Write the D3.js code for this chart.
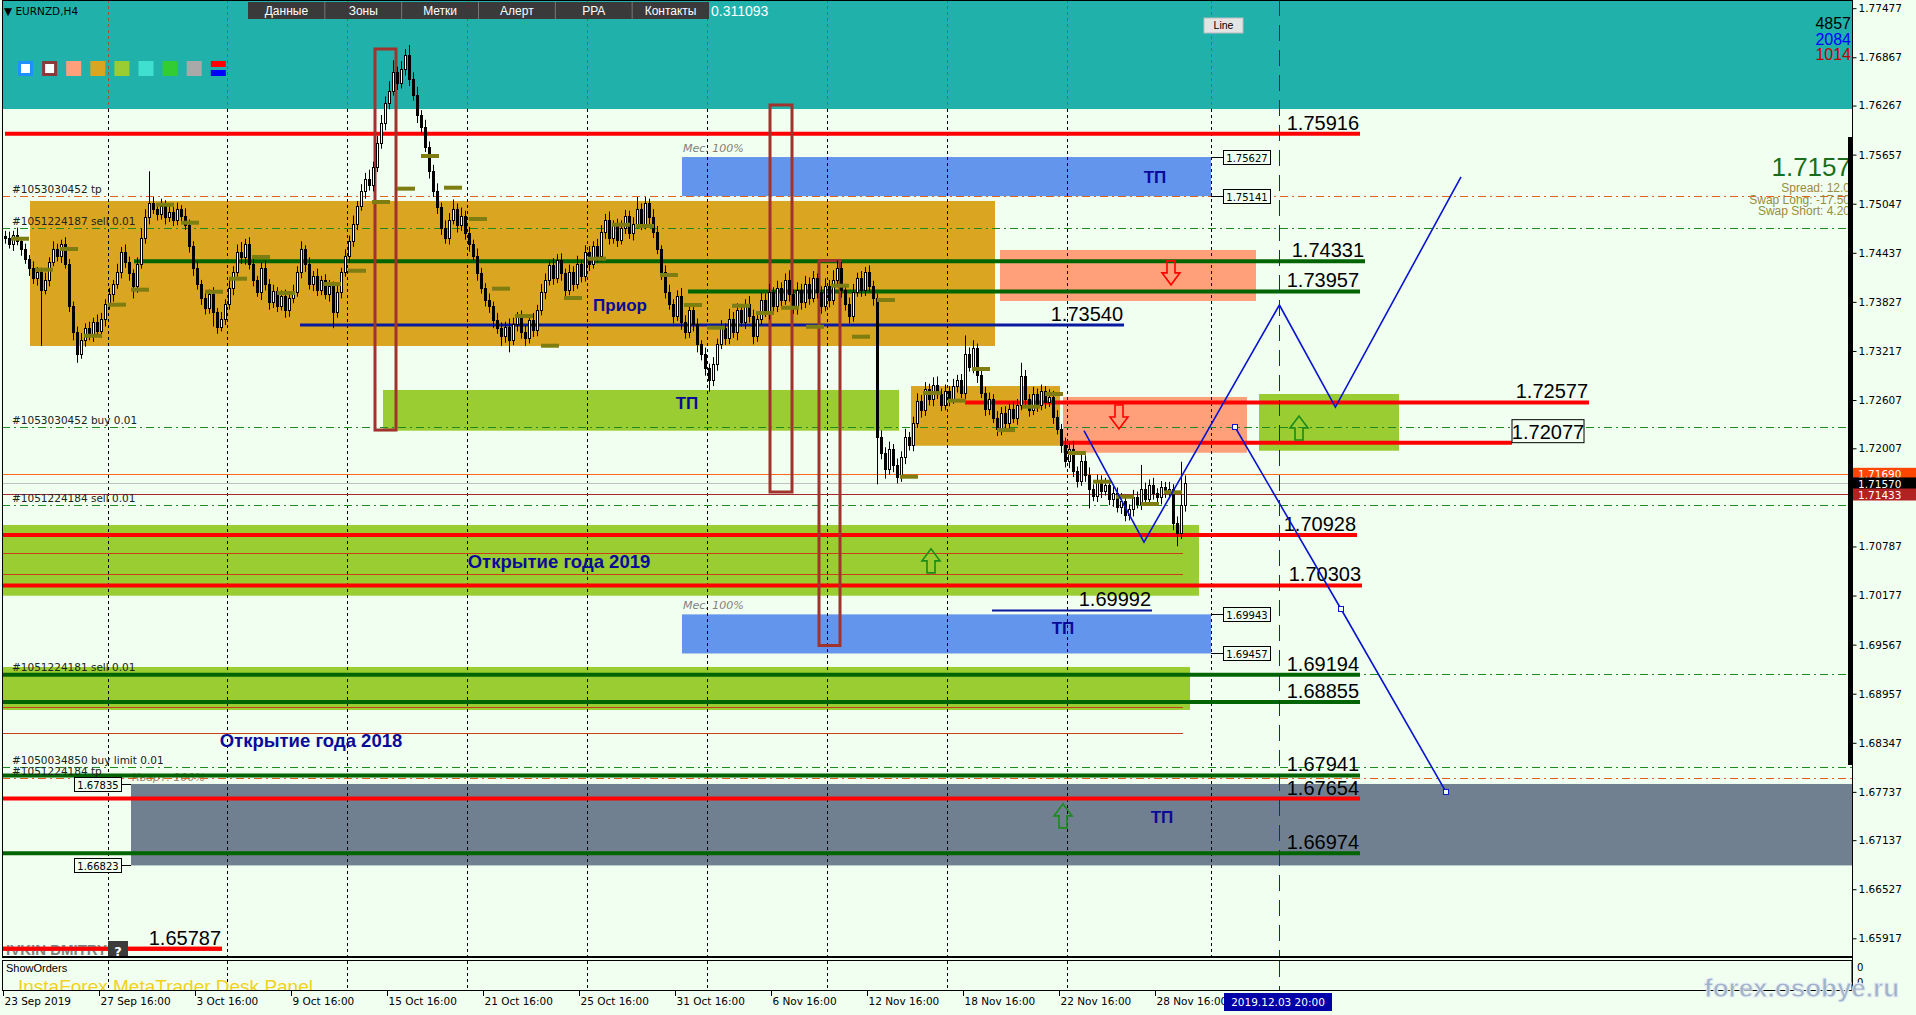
<!DOCTYPE html>
<html><head><meta charset="utf-8">
<script src="https://cdn.jsdelivr.net/npm/d3@7"></script>
<style>
body{margin:0;background:#f0fff0;overflow:hidden}
svg{display:block}
text{font-family:"DejaVu Sans",sans-serif}
.num{font-family:"Liberation Sans",Arial,sans-serif}
</style></head><body>
<svg id="c" width="1916" height="1015"></svg>
<script>
// ---------------- DATA ----------------
// H4 candles, closes in pips above 1.7000 (open = previous close)
const firstOpen = 465;
const closes = [
462,455,466,458,448,436,425,412,420,398,
410,432,448,440,455,430,378,345,318,335,
350,342,358,346,362,380,392,405,420,445,
432,418,402,430,462,488,505,498,492,502,
488,495,485,498,490,478,452,425,405,388,
375,392,370,352,362,380,400,420,445,438,
455,430,410,395,425,405,382,396,378,390,
372,388,395,420,448,430,405,415,398,410,
392,402,370,395,420,440,458,480,502,520,
535,528,550,580,605,630,645,668,655,672,
690,660,640,615,600,575,545,520,500,475,
462,485,498,478,490,468,455,440,418,400,
385,378,360,350,340,352,335,355,365,345,
338,360,348,372,395,410,428,412,435,418,
398,420,405,430,415,445,430,452,440,470,
485,462,478,460,475,490,468,480,498,480,
505,488,470,448,420,395,380,365,390,358,
345,372,355,330,318,300,285,305,330,350,
338,362,345,372,358,380,365,340,362,385,
370,395,378,400,385,410,392,375,398,382,
405,388,412,395,378,402,385,410,425,398,
380,365,395,412,398,420,402,388,215,195,
175,200,180,165,190,215,205,232,260,248,
275,262,280,268,255,272,262,278,285,270,
318,302,325,292,270,250,262,238,225,245,
232,250,238,255,290,262,248,268,255,272,
258,265,240,225,205,185,200,172,160,185,
168,150,142,160,148,155,138,145,128,135,
118,125,140,132,150,138,155,145,140,152,
146,150,108,95,130,157];
const upWick = [
6,8,5,9,4,7,5,8,6,5, 9,6,10,7,5,8,6,5,7,9, 6,8,5,9,7,6,8,5,10,6, 9,7,5,8,12,10,40,8,6,9,
7,10,6,8,5,9,7,6,8,5, 7,6,9,5,8,6,10,7,9,12, 6,8,10,5,7,9,6,8,5,7, 8,6,9,7,10,5,8,6,9,5,
7,8,6,9,5,8,7,10,6,9, 8,12,7,9,10,8,12,15,7,10, 7,12,8,10,6,9,7,8,10,6, 9,8,12,7,10,6,8,5,9,7,
6,8,5,9,7,6,10,8,5,7, 8,6,9,7,10,8,6,9,7,8, 6,9,7,10,5,8,7,6,9,8, 7,10,6,8,9,7,6,8,15,7,
8,6,10,7,5,8,9,6,7,10, 8,6,9,7,5,8,6,9,7,10, 6,12,8,9,7,6,10,8,7,9, 8,10,6,9,7,8,12,6,9,7,
10,8,9,6,7,10,8,12,9,7, 6,8,10,7,9,6,8,7,5,8, 7,9,6,8,7,10,6,8,9,7, 8,6,9,10,7,8,6,9,7,8,
23,8,10,6,9,7,8,6,9,7, 8,6,9,7,17,8,6,9,7,8, 6,9,7,8,6,9,7,10,6,8, 7,9,6,8,7,9,6,8,7,10,
8,6,9,7,30,8,7,9,6,8, 7,9,6,8,54,10];
const lowWick = [
7,6,9,5,8,6,10,7,9,70, 6,8,5,7,9,6,8,10,11,6, 8,7,9,6,8,10,7,9,6,8, 7,9,15,8,6,7,9,6,8,7,
9,6,8,7,9,6,8,10,7,9, 8,7,18,9,6,8,7,9,6,8, 9,7,8,6,10,8,9,7,8,6, 9,8,7,6,8,10,7,9,8,7,
6,9,20,7,8,6,9,7,8,6, 9,7,8,6,7,9,8,6,9,7, 8,9,7,10,8,6,9,7,8,9, 7,8,6,9,7,8,10,6,9,7,
8,9,10,7,12,8,15,6,9,8, 10,7,9,8,6,9,7,8,6,9, 8,7,9,6,8,7,9,6,8,7, 9,8,7,9,6,8,7,9,6,8,
7,9,8,6,10,8,7,9,6,10, 8,7,9,10,8,9,14,7,8,6, 9,8,7,10,6,9,8,10,7,8, 6,9,7,8,10,6,9,7,8,9,
7,9,6,8,10,7,9,6,8,10, 8,9,7,6,9,8,7,10,59,8, 12,7,9,8,6,9,7,8,6,9, 7,8,9,6,8,7,9,6,8,7,
9,6,8,10,7,9,8,6,9,8, 7,9,6,8,7,9,8,6,9,7, 8,6,9,7,10,8,9,7,8,6, 9,24,7,8,9,6,8,10,7,9,
8,7,9,6,8,7,9,8,6,9, 7,8,9,16,7,8];

// daily open markers: [bar, price]
const dayMarks = [[1.5,1.74612],[7.5,1.74227],[13.75,1.74484],[19.75,1.73406],[25.75,1.73792],[31.5,1.73978],
[37.75,1.75035],[44,1.74811],[50,1.73953],[56,1.74115],[61.75,1.74385],[68,1.73937],[79.5,1.74049],
[85.75,1.74214],[91.75,1.75068],[98,1.75234],[104,1.75640],[109.75,1.75246],[116,1.74857],[121.75,1.73991],
[127.5,1.73651],[134,1.73282],[139.75,1.73875],[145.75,1.74364],[151.75,1.74786],[157.75,1.74770],
[163.75,1.74161],[169.75,1.73788],[175.5,1.73506],[181.75,1.73779],[187.75,1.73689],[194,1.73754],
[200.25,1.73518],[206.5,1.74028],[211.75,1.73394],[218,1.73850],[223.75,1.71654],[229.5,1.72694],
[235.75,1.72599],[241.75,1.72993],[248,1.72234],[254.25,1.72524],[260,1.72682],[265.75,1.71949],
[272,1.71592],[277.75,1.71405],[284,1.71315],[289.75,1.71460]];

const priceTicks = [1.77477,1.76867,1.76267,1.75657,1.75047,1.74437,1.73827,1.73217,1.72607,1.72007,
1.70787,1.70177,1.69567,1.68957,1.68347,1.67737,1.67137,1.66527,1.65917];
const timeBars = [0,24,48,72,96,120,144,168,192,216,240,264,288];
const timeLabels = ["23 Sep 2019","27 Sep 16:00","3 Oct 16:00","9 Oct 16:00","15 Oct 16:00","21 Oct 16:00",
"25 Oct 16:00","31 Oct 16:00","6 Nov 16:00","12 Nov 16:00","18 Nov 16:00","22 Nov 16:00","28 Nov 16:00"];
const futureBar = 318.5, futureLabel = "2019.12.03 20:00";
const gridBars = [25.75,55.5,85.5,115.5,145.5,175.5,205.5,235.5,265.5,301.5];

const zones = [
 {kind:"teal",  b0:-1,    b1:462,   p0:1.7760,  p1:1.76224},
 {kind:"gold",  b0:6.25,  b1:247.5, p0:1.75081, p1:1.73279},
 {kind:"gold",  b0:226.5, b1:263.75,p0:1.72781, p1:1.72039},
 {kind:"salmon",b0:248.75,b1:312.75,p0:1.74472, p1:1.73838},
 {kind:"salmon",b0:264.5, b1:310.5, p0:1.72645, p1:1.71952},
 {kind:"lime",  b0:94.5,  b1:223.5, p0:1.72732, p1:1.72226},
 {kind:"lime",  b0:313.5, b1:348.5, p0:1.72682, p1:1.71977},
 {kind:"lime",  b0:-0.75, b1:298.5, p0:1.71054, p1:1.70175},
 {kind:"lime",  b0:-0.75, b1:296.25,p0:1.69289, p1:1.68755},
 {kind:"blue",  b0:169.25,b1:301.5, p0:1.75627, p1:1.75141},
 {kind:"blue",  b0:169.25,b1:301.5, p0:1.69943, p1:1.69457},
 {kind:"slate", b0:31.5,  b1:462,   p0:1.67835, p1:1.66823}
];
const frames = [
 {b0:92.5, b1:97.75, p0:1.76970,p1:1.72234},
 {b0:191.25,b1:196.75,p0:1.76274,p1:1.71464},
 {b0:203.5,b1:208.75,p0:1.74340,p1:1.69556}
];
const thinLines = [
 {kind:"orange",p:1.71690,b0:-1,b1:462},
 {kind:"bid",   p:1.71570,b0:-1,b1:462},
 {kind:"dred",  p:1.71433,b0:-1,b1:462},
 {kind:"brown", p:1.70706,b0:-1,b1:294.5},
 {kind:"brown", p:1.70445,b0:-1,b1:294.5},
 {kind:"brown", p:1.68795,b0:-1,b1:294.5},
 {kind:"brown", p:1.68472,b0:-1,b1:294.5}
];
const orderLines = [
 {kind:"tp",   p:1.75141,text:"#1053030452 tp"},
 {kind:"order",p:1.74749,text:"#1051224187 sell 0.01"},
 {kind:"order",p:1.72272,text:"#1053030452 buy 0.01"},
 {kind:"order",p:1.71299,text:"#1051224184 sell 0.01"},
 {kind:"order",p:1.69202,text:"#1051224181 sell 0.01"},
 {kind:"order",p:1.68046,text:"#1050034850 buy limit 0.01"},
 {kind:"tp",   p:1.67912,text:"#1051224184 tp"}
];
const levels = [
 {kind:"red",  p:1.75916,b0:0,    b1:338.75,label:"1.75916"},
 {kind:"green",p:1.74331,b0:32.25,b1:340,   label:"1.74331"},
 {kind:"green",p:1.73957,b0:170.75,b1:338.75,label:"1.73957"},
 {kind:"blue", p:1.73540,b0:73.75,b1:279.75,label:"1.73540"},
 {kind:"red",  p:1.72577,b0:240,  b1:396,   label:"1.72577"},
 {kind:"red",  p:1.72077,b0:264.5,b1:376.75,label:""},
 {kind:"red",  p:1.70928,b0:-1,   b1:338,   label:"1.70928"},
 {kind:"red",  p:1.70303,b0:-1,   b1:339.25,label:"1.70303"},
 {kind:"blue2",p:1.69992,b0:246.75,b1:286.75,label:"1.69992"},
 {kind:"green",p:1.69194,b0:-1,   b1:338.75,label:"1.69194"},
 {kind:"green",p:1.68855,b0:-1,   b1:338.75,label:"1.68855"},
 {kind:"green",p:1.67941,b0:-1,   b1:338.75,label:"1.67941"},
 {kind:"red",  p:1.67654,b0:-1,   b1:338.75,label:"1.67654"},
 {kind:"green",p:1.66974,b0:-1,   b1:338.75,label:"1.66974"},
 {kind:"red",  p:1.65787,b0:-1,   b1:54.25, label:"1.65787"}
];
const boxedLevel = {p:1.72077, b0:376.75, b1:394.75, label:"1.72077"};
const tagsRight = [1.75627,1.75141,1.69943,1.69457];
const tagsLeft = [1.67835,1.66823];
const zigA = [[269.75,1.72226],[284.75,1.70842],[318.6,1.73788],[332.6,1.72520],[364,1.75381]];
const zigB = [[307.5,1.72272],[334,1.70010],[360.25,1.67736]];
const arrows = [
 {dir:"down",b:291.5,p:1.74188},{dir:"down",b:278.5,p:1.72396},
 {dir:"up",b:231.5,p:1.70608},{dir:"up",b:323.5,p:1.72259},{dir:"up",b:264.5,p:1.67439}
];
const zoneTexts = [
 {t:"ТП",b:287.5,p:1.75381,s:17},{t:"ТП",b:264.5,p:1.69776,s:17},{t:"ТП",b:170.5,p:1.72571,s:17},{t:"ТП",b:289.25,p:1.67427,s:17},
 {t:"Приор",b:153.75,p:1.73790,s:17},{t:"Открытие года 2019",b:138.5,p:1.70598,s:18.5},{t:"Открытие года 2018",b:76.5,p:1.68369,s:18.5}
];
const menuItems = ["Данные","Зоны","Метки","Алерт","PPA","Контакты"];
const swatches = ["#ffffff","#ffffff","#ffa07a","#daa520","#9acd32","#40e0d0","#32cd32","#a9a9a9","split"];
const counters = [{v:"4857",c:"#000000"},{v:"2084",c:"#0000ff"},{v:"1014",c:"#c00000"}];
const priceFlags = [{p:1.71690,bg:"#ff4500"},{p:1.71570,bg:"#000000"},{p:1.71433,bg:"#b22222"}];
const infoLines = ["Spread: 12.0","Swap Long: -17.50","Swap Short: 4.20"];
const bidText = "1.7157";

// ---------------- DRAW ----------------
const W=1916,H=1015,R=1852,B=957;
const svg = d3.select("#c");
const x = d3.scaleLinear().domain([0,1]).range([5,9]);
const y = d3.scaleLinear().domain([1.65917,1.77477]).range([938.3,8.2]);
const P = v => 1.7 + v/1e4;

svg.append("rect").attr("width",W).attr("height",H).attr("fill","#f0fff0");
svg.append("defs").append("clipPath").attr("id","plot")
  .append("rect").attr("x",2).attr("y",0).attr("width",R-2).attr("height",B);
const g = svg.append("g").attr("clip-path","url(#plot)");

const zoneFill = {teal:"#20b2aa",gold:"#daa520",salmon:"#ffa07a",lime:"#9acd32",blue:"#6495ed",slate:"#708090"};
g.selectAll(".zone").data(zones).join("rect")
  .attr("x",d=>x(d.b0)).attr("width",d=>x(d.b1)-x(d.b0))
  .attr("y",d=>y(d.p0)).attr("height",d=>y(d.p1)-y(d.p0))
  .attr("fill",d=>zoneFill[d.kind]);

// grid
gridBars.forEach(b=>{
  const xx=Math.round(x(b))+0.5;
  g.append("line").attr("x1",xx).attr("x2",xx).attr("y1",y(1.76224)).attr("y2",B)
   .attr("stroke","#000").attr("stroke-dasharray","3,3").attr("stroke-width",1);
  g.append("line").attr("x1",xx).attr("x2",xx).attr("y1",0).attr("y2",y(1.76224))
   .attr("stroke","#a0523c").attr("stroke-dasharray","3,3").attr("stroke-width",1);
});

// "Мес./Кварт." captions
g.append("text").attr("x",x(169.5)).attr("y",y(1.75627)-5).attr("font-size",11).attr("font-style","italic").attr("fill","#808080").text("Мес. 100%");
g.append("text").attr("x",x(169.5)).attr("y",y(1.69943)-5).attr("font-size",11).attr("font-style","italic").attr("fill","#808080").text("Мес. 100%");
g.append("text").attr("x",x(31.75)).attr("y",y(1.67835)-3).attr("font-size",11).attr("font-style","italic").attr("fill","#a08070").text("Кварт. 100%");

// thin lines
const thinCol = {orange:"#ff6a1a",bid:"#c0c0c0",dred:"#a52a2a",brown:"#c8401a"};
thinLines.forEach(d=>{
  const yy=Math.round(y(d.p))+0.5;
  g.append("line").attr("x1",x(d.b0)).attr("x2",x(d.b1)).attr("y1",yy).attr("y2",yy)
   .attr("stroke",thinCol[d.kind]).attr("stroke-width",1);
});
// order lines
orderLines.forEach(d=>{
  const yy=Math.round(y(d.p))+0.5;
  g.append("line").attr("x1",2).attr("x2",R).attr("y1",yy).attr("y2",yy)
   .attr("stroke",d.kind==="tp"?"#e0601c":"#1f8a1f").attr("stroke-width",1)
   .attr("stroke-dasharray","8,4,2,4");
});

// level lines
const lvlCol = {red:"#ff0000",green:"#006400",blue:"#0a1aa0",blue2:"#0a1aa0"};
const lvlW = {red:4,green:4,blue:3,blue2:2};
levels.forEach(d=>{
  g.append("line").attr("x1",x(d.b0)).attr("x2",x(d.b1)).attr("y1",y(d.p)).attr("y2",y(d.p))
   .attr("stroke",lvlCol[d.kind]).attr("stroke-width",lvlW[d.kind]);
});

// frames
g.selectAll(".frame").data(frames).join("rect")
  .attr("x",d=>x(d.b0)).attr("width",d=>x(d.b1)-x(d.b0))
  .attr("y",d=>y(d.p0)).attr("height",d=>y(d.p1)-y(d.p0))
  .attr("fill","none").attr("stroke","#a0332d").attr("stroke-width",3);

// candles
const candles = closes.map((c,i)=>{
  const o = i ? closes[i-1] : firstOpen;
  return {i, o:P(o), c:P(c), h:P(Math.max(o,c)+upWick[i]), l:P(Math.min(o,c)-lowWick[i])};
});
const cg = g.append("g");
candles.forEach(d=>{
  const cx = Math.round(x(d.i));
  cg.append("line").attr("x1",cx+0.5).attr("x2",cx+0.5).attr("y1",y(d.h)).attr("y2",y(d.l)).attr("stroke","#000");
  const top=Math.round(y(Math.max(d.o,d.c))), bot=Math.round(y(Math.min(d.o,d.c)));
  cg.append("rect").attr("x",cx-0.5).attr("width",2).attr("y",top+0.5).attr("height",Math.max(bot-top,1))
    .attr("fill",d.c>=d.o?"#ffffff":"#000000").attr("stroke","#000").attr("stroke-width",1);
});
// day markers
dayMarks.forEach(([b,p])=>{
  g.append("line").attr("x1",x(b)).attr("x2",x(b)+18).attr("y1",y(p)).attr("y2",y(p))
   .attr("stroke","#7d7d12").attr("stroke-width",4);
});

// level labels
levels.filter(d=>d.label).forEach(d=>{
  g.append("text").attr("class","num").attr("x",x(d.b1)-1).attr("y",y(d.p)-4)
   .attr("text-anchor","end").attr("font-size",20).attr("fill","#000").text(d.label);
});
// boxed level
g.append("rect").attr("x",x(boxedLevel.b0)).attr("width",x(boxedLevel.b1)-x(boxedLevel.b0))
 .attr("y",y(boxedLevel.p)-23).attr("height",23).attr("fill","#f0fff0").attr("stroke","#000");
g.append("text").attr("class","num").attr("x",(x(boxedLevel.b0)+x(boxedLevel.b1))/2).attr("y",y(boxedLevel.p)-4)
 .attr("text-anchor","middle").attr("font-size",20).text(boxedLevel.label);

// tags
function tag(x0, xc, p){
  const yy=Math.round(y(p))+0.5;
  g.append("line").attr("x1",xc).attr("x2",x0<xc?x0+47:x0).attr("y1",yy).attr("y2",yy).attr("stroke","#000");
  g.append("rect").attr("x",x0+0.5).attr("y",yy-7).attr("width",47).attr("height",14).attr("fill","#f0fff0").attr("stroke","#000");
  g.append("text").attr("x",x0+24).attr("y",yy+4).attr("text-anchor","middle").attr("font-size",10).text(p.toFixed(5));
}
tagsRight.forEach(p=>tag(x(304.5),x(301.5),p));
tagsLeft.forEach(p=>tag(x(17.25),x(31.5),p));

// zone texts
zoneTexts.forEach(d=>{
  g.append("text").attr("class","num").attr("x",x(d.b)).attr("y",y(d.p)+6).attr("text-anchor","middle")
   .attr("font-size",d.s).attr("font-weight","bold").attr("fill","#0a0a9a").text(d.t);
});

// arrows
function arrowPath(cx,cy,s){
  const pts=[[-4,-12],[4,-12],[4,0],[9,0],[0,12],[-9,0],[-4,0]].map(([a,b])=>[cx+a,cy+b*s]);
  return "M"+pts.map(q=>q.join(",")).join("L")+"Z";
}
arrows.forEach(d=>{
  g.append("path").attr("d",arrowPath(x(d.b),y(d.p),d.dir==="down"?1:-1))
   .attr("fill","none").attr("stroke",d.dir==="down"?"#ff0000":"#1a8a1a").attr("stroke-width",1.6);
});

// zigzags
const line = d3.line().x(d=>x(d[0])).y(d=>y(d[1]));
g.append("path").attr("d",line(zigA)).attr("fill","none").attr("stroke","#0a14d0").attr("stroke-width",1.6);
g.append("path").attr("d",line(zigB)).attr("fill","none").attr("stroke","#0a14d0").attr("stroke-width",1.6);
zigB.forEach(d=>g.append("rect").attr("x",x(d[0])-2.5).attr("y",y(d[1])-2.5).attr("width",5).attr("height",5)
  .attr("fill","#f0fff0").attr("stroke","#0a14d0"));

// future vertical line
g.append("line").attr("x1",Math.round(x(futureBar))+0.5).attr("x2",Math.round(x(futureBar))+0.5).attr("y1",0).attr("y2",B)
 .attr("stroke","#1020c0").attr("stroke-dasharray","16,9");

// order comments
orderLines.forEach(d=>{
  g.append("text").attr("x",12).attr("y",y(d.p)-3).attr("font-size",10.5).attr("fill","#222").text(d.text);
});

// bottom-left signature
g.append("text").attr("x",6).attr("y",955).attr("font-size",15).attr("font-weight","bold").attr("fill","#808080").attr("class","num").text("IVKIN DMITRY");
g.append("line").attr("x1",x(-1)).attr("x2",x(54.25)).attr("y1",y(1.65787)).attr("y2",y(1.65787)).attr("stroke","#ff0000").attr("stroke-width",4);
g.append("rect").attr("x",108).attr("y",941).attr("width",20).attr("height",17).attr("fill","#3c3c3c");
g.append("text").attr("x",118).attr("y",956).attr("text-anchor","middle").attr("font-size",13).attr("font-weight","bold").attr("fill","#fff").text("?");

// top panel
g.append("text").attr("x",4).attr("y",15).attr("font-size",10.5).attr("fill","#000").text("▼ EURNZD,H4");
const menuX = d3.scaleBand().domain(menuItems).range([248,709]);
g.append("rect").attr("x",248).attr("y",2).attr("width",461).attr("height",17).attr("fill","#3a3a3a");
menuItems.forEach((m,i)=>{
  if(i) g.append("line").attr("x1",menuX(m)).attr("x2",menuX(m)).attr("y1",2).attr("y2",19).attr("stroke","#777");
  g.append("text").attr("x",menuX(m)+menuX.bandwidth()/2).attr("y",15).attr("text-anchor","middle")
   .attr("font-size",12).attr("fill","#fff").attr("class","num").text(m);
});
g.append("text").attr("x",711).attr("y",16).attr("font-size",14).attr("fill","#fff").attr("class","num").text("0.311093");
g.append("rect").attr("x",1204).attr("y",18).attr("width",39).attr("height",15).attr("fill","#e4e4e4").attr("stroke","#bbb");
g.append("text").attr("x",1223.5).attr("y",29).attr("text-anchor","middle").attr("font-size",10.5).attr("class","num").text("Line");
swatches.forEach((c,i)=>{
  const sx = 18 + i*24.1;
  if(c==="split"){
    g.append("rect").attr("x",sx).attr("y",61).attr("width",15).attr("height",6).attr("fill","#ff0000");
    g.append("rect").attr("x",sx).attr("y",70).attr("width",15).attr("height",6).attr("fill","#0000ff");
  } else {
    g.append("rect").attr("x",sx+ (i<2?1.5:0)).attr("y",61+(i<2?1.5:0)).attr("width",i<2?12:15).attr("height",i<2?12:15)
     .attr("fill",c).attr("stroke",i===0?"#1e90ff":i===1?"#8b3a3a":"none").attr("stroke-width",3);
  }
});
counters.forEach((d,i)=>{
  g.append("text").attr("class","num").attr("x",1851).attr("y",29+i*15.5).attr("text-anchor","end")
   .attr("font-size",16).attr("fill",d.c).text(d.v);
});
// bid info
g.append("text").attr("class","num").attr("x",1851).attr("y",176).attr("text-anchor","end").attr("font-size",26).attr("fill","#1a6e1a").text(bidText);
infoLines.forEach((t,i)=>{
  g.append("text").attr("class","num").attr("x",1850).attr("y",192+i*11.5).attr("text-anchor","end")
   .attr("font-size",12).attr("fill","#9a8c3a").text(t);
});
// right thick bar
g.append("line").attr("x1",1850).attr("x2",1850).attr("y1",137).attr("y2",765).attr("stroke","#000").attr("stroke-width",4);

// frame of main window
svg.append("line").attr("x1",2.5).attr("x2",2.5).attr("y1",0).attr("y2",B).attr("stroke","#000");
svg.append("line").attr("x1",2).attr("x2",R).attr("y1",B).attr("y2",B).attr("stroke","#000").attr("stroke-width",2);
svg.append("line").attr("x1",2).attr("x2",R).attr("y1",0.5).attr("y2",0.5).attr("stroke","#000");

// price axis
const ya = svg.append("g").attr("transform",`translate(${R+0.5},0)`)
  .call(d3.axisRight(y).tickValues(priceTicks).tickSize(4).tickPadding(2).tickFormat(d3.format(".5f")));
ya.select(".domain").attr("d",`M0,0V991`).attr("stroke","#000");
ya.selectAll("text").attr("font-size",10.5).attr("font-family","DejaVu Sans");
priceFlags.forEach(d=>{
  svg.append("rect").attr("x",R+1).attr("y",y(d.p)-6).attr("width",W-R).attr("height",12).attr("fill",d.bg);
  svg.append("text").attr("x",R+6).attr("y",y(d.p)+4.5).attr("font-size",10.5).attr("fill","#fff").text(d.p.toFixed(5));
});

// sub window
svg.append("rect").attr("x",2.5).attr("y",960.5).attr("width",R-2.5).attr("height",30).attr("fill","#f0fff0").attr("stroke","#000");
gridBars.slice(0,9).forEach(b=>{
  const xx=Math.round(x(b))+0.5;
  svg.append("line").attr("x1",xx).attr("x2",xx).attr("y1",961).attr("y2",990).attr("stroke","#000").attr("stroke-dasharray","3,3");
});
svg.append("line").attr("x1",Math.round(x(futureBar))+0.5).attr("x2",Math.round(x(futureBar))+0.5).attr("y1",961).attr("y2",990)
 .attr("stroke","#1020c0").attr("stroke-dasharray","16,9");
svg.append("text").attr("x",6).attr("y",972).attr("class","num").attr("font-size",11).text("ShowOrders");
svg.append("defs").append("clipPath").attr("id","sub").append("rect").attr("x",3).attr("y",961).attr("width",R-3).attr("height",29);
svg.append("text").attr("clip-path","url(#sub)").attr("x",18).attr("y",993).attr("font-size",19).attr("class","num").attr("fill","#f2d21a").text("InstaForex MetaTrader Desk Panel");
svg.append("text").attr("x",R+5).attr("y",971).attr("font-size",10).text("0");
svg.append("text").attr("x",R+5).attr("y",986).attr("font-size",10).text("0");

// time axis
const xa = svg.append("g").attr("transform","translate(-2,991)")
  .call(d3.axisBottom(x).tickValues(timeBars).tickSize(5).tickFormat((d,i)=>timeLabels[i]));
xa.select(".domain").remove();
xa.selectAll("text").attr("text-anchor","start").attr("x",1).attr("dy","0.55em").attr("font-size",10.5).attr("font-family","DejaVu Sans");
const fx = Math.round(x(futureBar));
svg.append("rect").attr("x",fx-55).attr("y",993).attr("width",108).attr("height",18).attr("fill","#0000a8");
svg.append("text").attr("x",fx-1).attr("y",1006).attr("text-anchor","middle").attr("font-size",10.5).attr("fill","#fff").text(futureLabel);

// watermark
svg.append("text").attr("class","num").attr("x",1704).attr("y",997).attr("font-size",26).attr("font-weight","bold")
 .attr("fill","#9fb2c8").attr("stroke","#e8eef5").attr("stroke-width",0.8).text("forex.osobye.ru");
</script>
</body></html>
